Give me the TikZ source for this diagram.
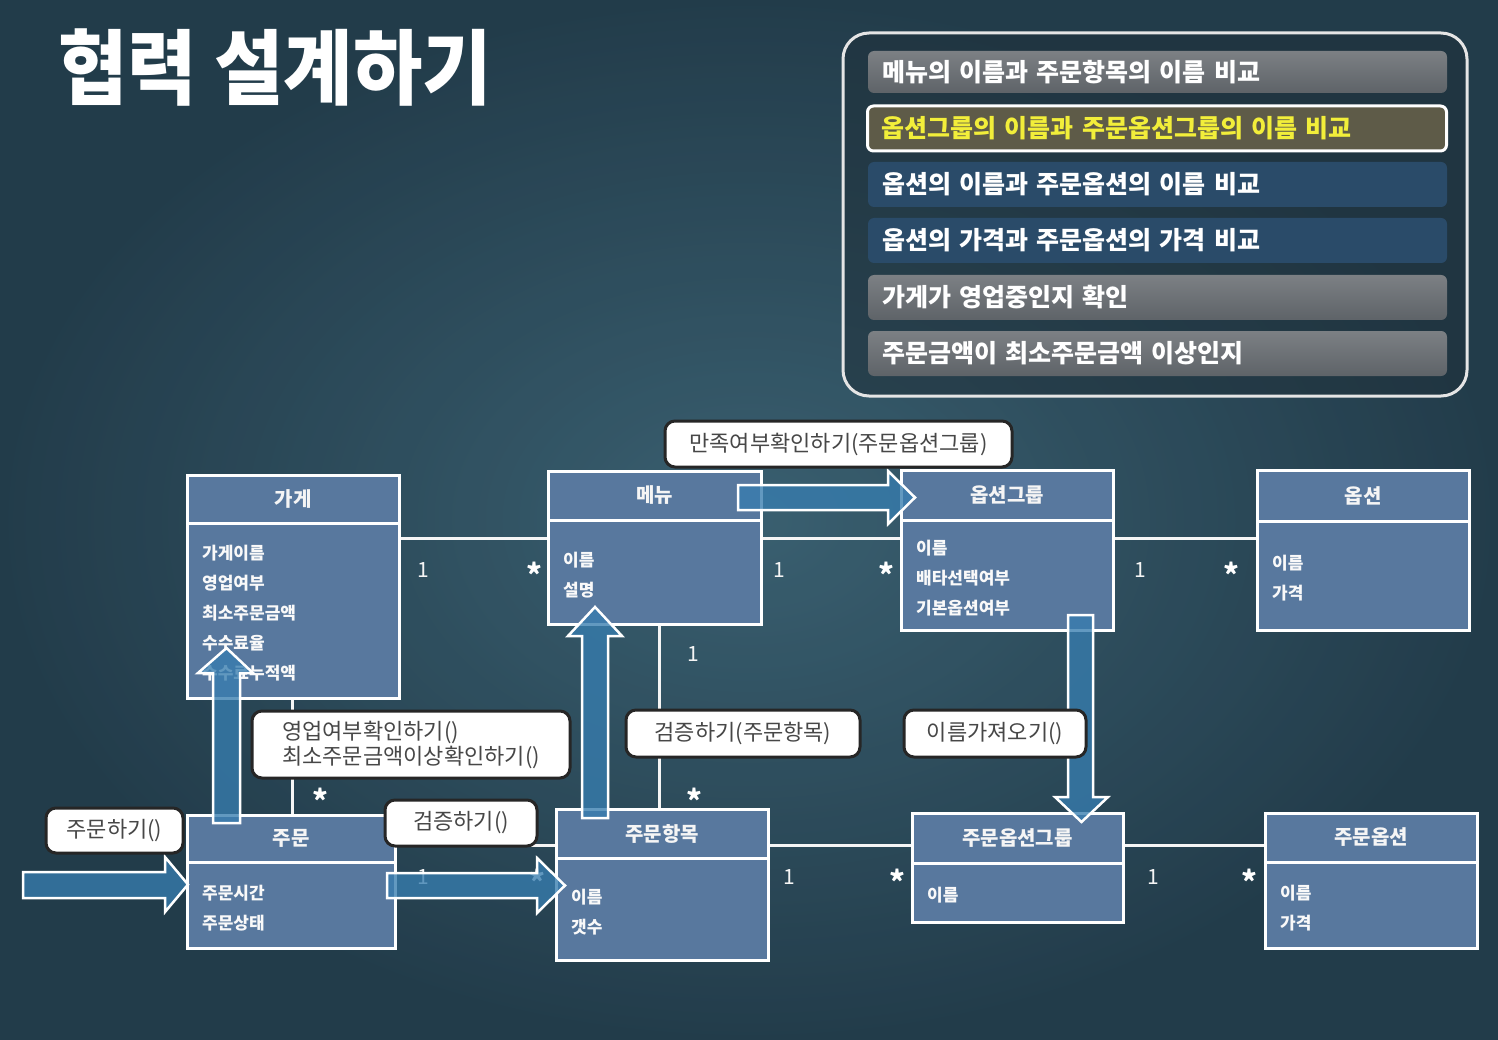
\documentclass[tikz,border=0pt]{standalone}
\usepackage{fontspec}
\setmainfont{Noto Sans CJK KR}
\usetikzlibrary{fit}
\definecolor{bgbase}{HTML}{2E4E5E}
\definecolor{bginner}{HTML}{3D6475}
\definecolor{bgouter}{HTML}{203846}
\definecolor{clsfill}{HTML}{58789E}
\definecolor{arrowblue}{RGB}{55,125,175}
\definecolor{rowgrayt}{HTML}{7C8084}
\definecolor{rowgrayb}{HTML}{5E6368}
\definecolor{rowblue}{HTML}{2A4B69}
\definecolor{rowhl}{HTML}{5E5B48}
\definecolor{hltext}{HTML}{F2EE3A}
\definecolor{panelfill}{HTML}{1F303A}
\tikzset{
  cls/.style={draw=white, line width=3pt, fill=clsfill, inner sep=0pt},
  clstitle/.style={text=white!92!gray, font=\bfseries\fontsize{20}{20}\selectfont, inner sep=0pt},
  clsattr/.style={text=white!95!gray, font=\bfseries\fontsize{17}{30}\selectfont, align=left, anchor=west, inner sep=0pt},
  conn/.style={draw=white!92!gray, line width=3pt},
  mult/.style={text=white!92!gray, font=\fontsize{21}{21}\selectfont, inner sep=0pt},
  multstar/.style={text=white, font=\bfseries\fontsize{30}{30}\selectfont, inner sep=0pt},
  callout/.style={draw=black!85, line width=3pt, fill=white, rounded corners=10pt, text=black!72, font=\fontsize{22}{25}\selectfont, align=left, inner sep=0pt},
  blockarrow/.style={fill=arrowblue, fill opacity=0.78, draw=white, draw opacity=1, line width=2.5pt, line join=miter},
  prow/.style={minimum width=579pt, text width=551pt, inner xsep=14pt, inner ysep=0pt, align=left, rounded corners=6pt, text=white, font=\bfseries\fontsize{25}{25}\selectfont},
  titlestyle/.style={text=white, font=\bfseries\fontsize{82}{82}\selectfont, anchor=west, inner sep=0pt}
}
\newcommand\umlclass[8]{%
  \node[cls, fit={(#2,#3) (#4,#5)}] (#1) {};
  \draw[white, line width=3pt] (#2,#6) -- (#4,#6);
  \node[clstitle] (#1-t) at ({(#2+#4)/2},{(#3+#6)/2}) {#7};
  \node[clsattr] (#1-a) at (#2+15,{(#6+#5)/2+3}) {#8};
}
\begin{document}
\begin{tikzpicture}[x=1pt,y=-1pt]
\useasboundingbox (0,0) rectangle (1498,1040);
\fill[bgbase] (0,0) rectangle (1498,1040);
\shade[inner color=bginner, outer color=bgouter, opacity=0.8] (0,0) rectangle (1498,1040);

% title
\node[titlestyle] (title) at (58,68) {\scalebox{0.92}[1]{협력 설계하기}};

% panel
\draw[draw=white!80!gray, line width=3pt, fill=panelfill, fill opacity=0.55, rounded corners=26pt] (843,33) rectangle (1467,396);
\node[prow, top color=rowgrayt, bottom color=rowgrayb, minimum height=42pt] (r1) at (1157.5,72) {메뉴의 이름과 주문항목의 이름 비교};
\node[prow, fill=rowhl, draw=white, line width=3pt, minimum height=45pt, text=hltext] (r2) at (1157,128.5) {옵션그룹의 이름과 주문옵션그룹의 이름 비교};
\node[prow, fill=rowblue, minimum height=45pt] (r3) at (1157.5,184.5) {옵션의 이름과 주문옵션의 이름 비교};
\node[prow, fill=rowblue, minimum height=45pt] (r4) at (1157.5,240.5) {옵션의 가격과 주문옵션의 가격 비교};
\node[prow, top color=rowgrayt, bottom color=rowgrayb, minimum height=45pt] (r5) at (1157.5,297.5) {가게가 영업중인지 확인};
\node[prow, top color=rowgrayt, bottom color=rowgrayb, minimum height=45pt] (r6) at (1157.5,353.5) {주문금액이 최소주문금액 이상인지};

% classes
\umlclass{gage}{187}{475}{399}{698}{523}{가게}{가게이름\\영업여부\\최소주문금액\\수수료율\\수수료누적액}
\umlclass{menu}{548}{471}{761}{624}{520}{메뉴}{이름\\설명}
\umlclass{optg}{901}{470}{1113}{630}{520}{옵션그룹}{이름\\배타선택여부\\기본옵션여부}
\umlclass{opt}{1257}{470}{1469}{630}{521}{옵션}{이름\\가격}
\umlclass{order}{187}{815}{395}{948}{862}{주문}{주문시간\\주문상태}
\umlclass{item}{556}{809}{768}{960}{858}{주문항목}{이름\\갯수}
\umlclass{oog}{912}{813}{1123}{922}{863}{주문옵션그룹}{이름}
\umlclass{oo}{1265}{813}{1477}{948}{862}{주문옵션}{이름\\가격}

% connectors
\draw[conn] (gage.east |- 0,538) -- (menu.west |- 0,538);
\draw[conn] (menu.east |- 0,538) -- (optg.west |- 0,538);
\draw[conn] (optg.east |- 0,538) -- (opt.west |- 0,538);
\draw[conn] (gage.south -| 292,0) -- (order.north -| 292,0);
\draw[conn] (menu.south -| 659,0) -- (item.north -| 659,0);
\draw[conn] (order.east |- 0,845) -- (item.west |- 0,845);
\draw[conn] (item.east |- 0,845) -- (oog.west |- 0,845);
\draw[conn] (oog.east |- 0,845) -- (oo.west |- 0,845);

% multiplicities
\node[mult] (m1) at (423,570) {1};
\node[multstar] (m2) at (534,574) {*};
\node[mult] (m3) at (779,570) {1};
\node[multstar] (m4) at (886,574) {*};
\node[mult] (m5) at (1140,570) {1};
\node[multstar] (m6) at (1231,574) {*};
\node[multstar] (m7) at (320,800) {*};
\node[mult] (m8) at (693,654) {1};
\node[multstar] (m9) at (694,800) {*};
\node[mult] (m10) at (423,877) {1};
\node[multstar] (m11) at (537,881) {*};
\node[mult] (m12) at (789,877) {1};
\node[multstar] (m13) at (897,881) {*};
\node[mult] (m14) at (1153,877) {1};
\node[multstar] (m15) at (1249,881) {*};

% block arrows
\draw[blockarrow] (23,872) -- (165,872) -- (165,857) -- (188,884.5) -- (165,912) -- (165,898) -- (23,898) -- cycle;
\draw[blockarrow] (387,873) -- (537,873) -- (537,858) -- (565,885.5) -- (537,913) -- (537,898) -- (387,898) -- cycle;
\draw[blockarrow] (213,823) -- (213,673) -- (198,673) -- (226.5,648) -- (253,673) -- (240,673) -- (240,823) -- cycle;
\draw[blockarrow] (582,818) -- (582,636) -- (568,636) -- (595,607) -- (622,636) -- (608,636) -- (608,818) -- cycle;
\draw[blockarrow] (738,485) -- (888,485) -- (888,471) -- (915,497.5) -- (888,524) -- (888,510) -- (738,510) -- cycle;
\draw[blockarrow] (1068,615) -- (1093,615) -- (1093,797) -- (1108,797) -- (1081.5,822) -- (1055,797) -- (1068,797) -- cycle;

% callouts
\node[callout, minimum width=347pt, minimum height=46pt] (c1) at (838.5,444) {만족여부확인하기(주문옵션그룹)};
\node[callout, minimum width=318pt, minimum height=67pt] (c2) at (411,744.5) {영업여부확인하기()\\최소주문금액이상확인하기()};
\node[callout, minimum width=234pt, minimum height=47pt] (c3) at (743,733.5) {검증하기(주문항목)};
\node[callout, minimum width=182pt, minimum height=47pt] (c4) at (995,733.5) {이름가져오기()};
\node[callout, minimum width=137pt, minimum height=45pt] (c5) at (114.5,830.5) {주문하기()};
\node[callout, minimum width=152pt, minimum height=46pt] (c6) at (461,823) {검증하기()};
\end{tikzpicture}
\end{document}
